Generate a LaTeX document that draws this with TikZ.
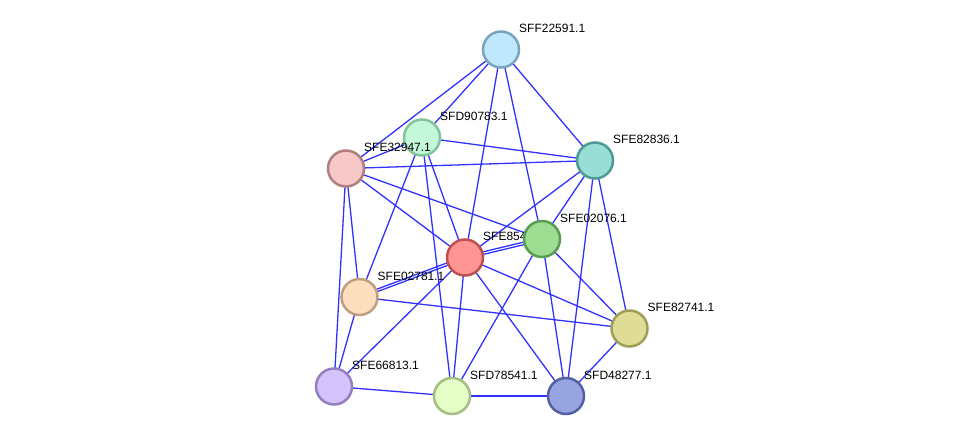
\documentclass[tikz,border=0pt]{standalone}
\usepackage{fontspec}
\setmainfont{Liberation Sans}
\begin{document}
\begin{tikzpicture}[x=1pt,y=-1pt,
  prot/.style={circle,minimum size=36pt,inner sep=0pt,line width=2.5pt},
  lbl/.style={anchor=west,inner sep=0pt,font=\fontsize{12}{12}\selectfont},
  edge/.style={draw={rgb,255:red,50;green,50;blue,255},line width=1.3pt}]
\definecolor{cF}{RGB}{192,232,252}\definecolor{bF}{RGB}{122,164,190}
\definecolor{cD9}{RGB}{196,248,218}\definecolor{bD9}{RGB}{132,196,156}
\definecolor{cE3}{RGB}{246,200,200}\definecolor{bE3}{RGB}{176,128,128}
\definecolor{cE8}{RGB}{152,222,212}\definecolor{bE8}{RGB}{78,154,148}
\definecolor{cE0}{RGB}{158,220,146}\definecolor{bE0}{RGB}{88,158,80}
\definecolor{cC}{RGB}{255,148,148}\definecolor{bC}{RGB}{190,80,80}
\definecolor{cE2}{RGB}{253,222,190}\definecolor{bE2}{RGB}{190,160,128}
\definecolor{cE7}{RGB}{222,220,150}\definecolor{bE7}{RGB}{160,158,86}
\definecolor{cE6}{RGB}{212,194,250}\definecolor{bE6}{RGB}{148,128,192}
\definecolor{cD7}{RGB}{228,254,198}\definecolor{bD7}{RGB}{164,190,132}
\definecolor{cD4}{RGB}{152,164,224}\definecolor{bD4}{RGB}{84,96,160}
\useasboundingbox[fill=white] (0,0) rectangle (976,441);
% coordinates
\coordinate (F) at (501,49.5);
\coordinate (D9) at (422,137.5);
\coordinate (E3) at (346,168.5);
\coordinate (E8) at (595,160.5);
\coordinate (E0) at (542,239);
\coordinate (C) at (465,257.5);
\coordinate (E2) at (359.5,297);
\coordinate (E7) at (629.5,328.5);
\coordinate (E6) at (334,386.5);
\coordinate (D7) at (452,396);
\coordinate (D4) at (566,396);
% edges
\foreach \a/\b in {F/E3,F/D9,F/C,F/E0,F/E8,D9/E3,D9/E8,D9/E2,D9/D7,D9/C,
  E3/E8,E3/C,E3/E0,E3/E2,E3/E6,E8/C,E8/E0,E8/D4,E8/E7,E0/D7,E0/D4,E0/E7,
  C/E6,C/D7,C/D4,C/E7,E2/E7,E2/E6,E6/D7,D7/D4,D4/E7}
  \path[edge] (\a) -- (\b);
\path[edge] ([yshift=-1.3pt]C) -- ([yshift=-1.3pt]E0);
\path[edge] ([yshift=1.3pt]C) -- ([yshift=1.3pt]E0);
\path[edge] ([yshift=-1.3pt]C) -- ([yshift=-1.3pt]E2);
\path[edge] ([yshift=1.3pt]C) -- ([yshift=1.3pt]E2);
% center node and its label (covered by SFE02076.1)
\node[prot,fill=cC,draw=bC] (nC) at (C) {};
\node[lbl] (lC) at ([xshift=18pt,yshift=21pt]C) {SFE85409.1};
% other nodes
\node[prot,fill=cF,draw=bF] (nF) at (F) {};
\node[prot,fill=cD9,draw=bD9] (nD9) at (D9) {};
\node[prot,fill=cE3,draw=bE3] (nE3) at (E3) {};
\node[prot,fill=cE8,draw=bE8] (nE8) at (E8) {};
\node[prot,fill=cE0,draw=bE0] (nE0) at (E0) {};
\node[prot,fill=cE2,draw=bE2] (nE2) at (E2) {};
\node[prot,fill=cE7,draw=bE7] (nE7) at (E7) {};
\node[prot,fill=cE6,draw=bE6] (nE6) at (E6) {};
\node[prot,fill=cD7,draw=bD7] (nD7) at (D7) {};
\node[prot,fill=cD4,draw=bD4] (nD4) at (D4) {};
% labels
\node[lbl] (lF) at ([xshift=18pt,yshift=21pt]F) {SFF22591.1};
\node[lbl] (lD9) at ([xshift=18pt,yshift=21pt]D9) {SFD90783.1};
\node[lbl] (lE3) at ([xshift=18pt,yshift=21pt]E3) {SFE32947.1};
\node[lbl] (lE8) at ([xshift=18pt,yshift=21pt]E8) {SFE82836.1};
\node[lbl] (lE0) at ([xshift=18pt,yshift=21pt]E0) {SFE02076.1};
\node[lbl] (lE2) at ([xshift=18pt,yshift=21pt]E2) {SFE02781.1};
\node[lbl] (lE7) at ([xshift=18pt,yshift=21pt]E7) {SFE82741.1};
\node[lbl] (lE6) at ([xshift=18pt,yshift=21pt]E6) {SFE66813.1};
\node[lbl] (lD7) at ([xshift=18pt,yshift=21pt]D7) {SFD78541.1};
\node[lbl] (lD4) at ([xshift=18pt,yshift=21pt]D4) {SFD48277.1};
\end{tikzpicture}
\end{document}
